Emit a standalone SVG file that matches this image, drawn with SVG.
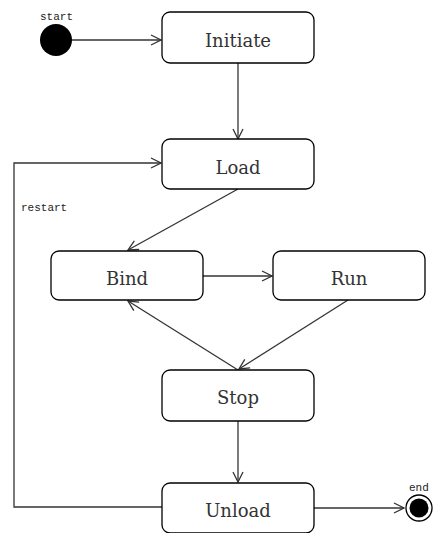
<svg xmlns="http://www.w3.org/2000/svg" width="433" height="533" viewBox="0 0 433 533">
<style>
.box{fill:#fff;stroke:#000;stroke-width:1.3}
.lbl{font-family:"DejaVu Serif","Liberation Serif",serif;font-size:18px;fill:#333;text-anchor:middle}
.sm{font-family:"Liberation Mono","DejaVu Sans Mono",monospace;font-size:11px;fill:#222}
.c{fill:none;stroke:#333;stroke-width:1.3}
</style>
<defs>
<marker id="a" viewBox="0 0 12 12" refX="11" refY="6" markerWidth="12" markerHeight="12" markerUnits="userSpaceOnUse" orient="auto">
<path d="M1,1 L11,6 L1,11" fill="none" stroke="#333" stroke-width="1.3"/>
</marker>
</defs>
<rect width="433" height="533" fill="#fff"/>
<g id="connectors">
<line class="c" x1="72" y1="40" x2="161" y2="40" marker-end="url(#a)"/>
<line class="c" x1="238" y1="63" x2="238" y2="139" marker-end="url(#a)"/>
<line class="c" x1="238" y1="189" x2="128" y2="250" marker-end="url(#a)"/>
<line class="c" x1="203" y1="276" x2="272" y2="276" marker-end="url(#a)"/>
<line class="c" x1="348" y1="300" x2="239" y2="369" marker-end="url(#a)"/>
<line class="c" x1="238" y1="370" x2="128" y2="301" marker-end="url(#a)"/>
<line class="c" x1="238" y1="421" x2="238" y2="482" marker-end="url(#a)"/>
<line class="c" x1="314" y1="508" x2="404" y2="508" marker-end="url(#a)"/>
<polyline class="c" points="162,507 14,507 14,163 161,163" marker-end="url(#a)"/>
<text class="sm" x="21" y="211">restart</text>
</g>
<g id="start">
<circle cx="56" cy="40" r="16" fill="#000"/>
<text class="sm" x="40" y="20">start</text>
</g>
<g id="initiate">
<rect class="box" x="162" y="12" width="152" height="51" rx="8"/>
<text class="lbl" x="238" y="47">Initiate</text>
</g>
<g id="load">
<rect class="box" x="162" y="139" width="152" height="50" rx="8"/>
<text class="lbl" x="238" y="174">Load</text>
</g>
<g id="bind">
<rect class="box" x="51" y="251" width="152" height="49" rx="8"/>
<text class="lbl" x="127" y="285">Bind</text>
</g>
<g id="run">
<rect class="box" x="273" y="251" width="152" height="49" rx="8"/>
<text class="lbl" x="349" y="285">Run</text>
</g>
<g id="stop">
<rect class="box" x="162" y="370" width="152" height="51" rx="8"/>
<text class="lbl" x="238" y="404">Stop</text>
</g>
<g id="unload">
<rect class="box" x="162" y="483" width="152" height="50" rx="8"/>
<text class="lbl" x="238" y="517">Unload</text>
</g>
<g id="end">
<circle cx="419" cy="508" r="13" fill="#fff" stroke="#000" stroke-width="1.3"/>
<circle cx="419" cy="508" r="9.5" fill="#000"/>
<text class="sm" x="409" y="491">end</text>
</g>
</svg>
